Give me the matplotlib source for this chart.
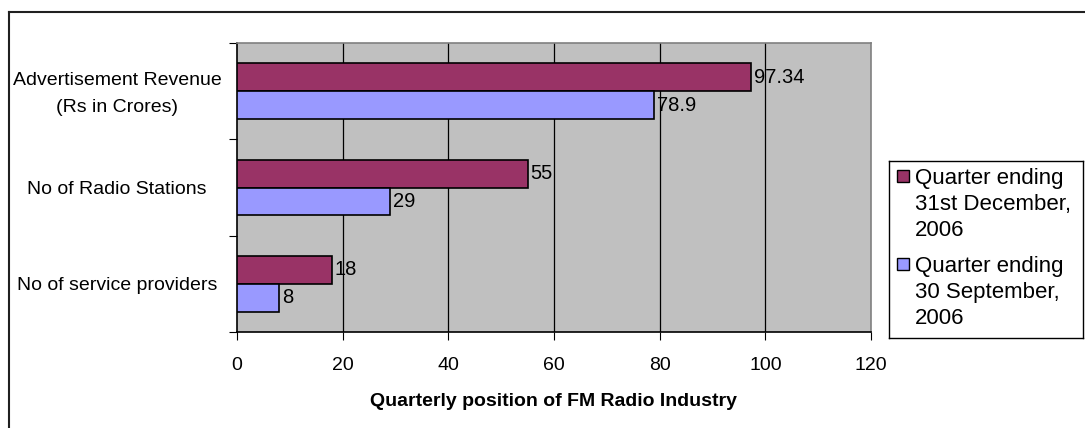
import numpy as np
import matplotlib
matplotlib.use('Agg')
import matplotlib.pyplot as plt
from matplotlib.lines import Line2D
from matplotlib.patches import Rectangle
from matplotlib.transforms import ScaledTranslation

plt.rcParams['font.family'] = ['Liberation Sans', 'DejaVu Sans']

# data
categories = ['Advertisement Revenue\n(Rs in Crores)', 'No of Radio Stations', 'No of service providers']
dec_2006 = [97.34, 55, 18]
sep_2006 = [78.9, 29, 8]
series_names = ['Quarter ending\n31st December,\n2006', 'Quarter ending\n30 September,\n2006']
colors = ['#993366', '#9999FF']
xticks = [0, 20, 40, 60, 80, 100, 120]

W, H = 1085, 428
fig = plt.figure(figsize=(W / 100, H / 100), dpi=100)
ax = fig.add_axes([237 / W, 1 - 332 / H, (871 - 237) / W, (332 - 43) / H])
ax.set_facecolor('#C0C0C0')

fs = 14
pos = np.arange(len(categories))[::-1]
bh = 0.29
b1 = ax.barh(pos + bh / 2, dec_2006, height=bh, color=colors[0], edgecolor='black', lw=1.2, zorder=3)
b2 = ax.barh(pos - bh / 2, sep_2006, height=bh, color=colors[1], edgecolor='black', lw=1.2, zorder=3)
ax.bar_label(b1, fmt='%g', padding=2, fontsize=14.5)
ax.bar_label(b2, fmt='%g', padding=2, fontsize=14.5)

ax.set_xlim(0, 120)
ax.set_xticks(xticks)
ax.tick_params(axis='x', length=6, direction='out', labelsize=fs, pad=12)
ax.grid(axis='x', color='black', lw=0.9, zorder=1)
ax.get_xgridlines()[-1].set_visible(False)
ax.get_xgridlines()[0].set_visible(False)

ax.set_ylim(-0.5, len(categories) - 0.5)
ax.set_yticks(np.arange(len(categories) + 1) - 0.5)
ax.set_yticklabels([])
ax.tick_params(axis='y', which='major', length=6, direction='out')
ax.set_yticks(pos, categories, minor=True)
ax.tick_params(axis='y', which='minor', length=0, labelsize=fs, pad=0)
# Excel-style centred category labels
for t in ax.get_yticklabels(minor=True):
    dy = 0.04 if '\n' in t.get_text() else 0
    off = ScaledTranslation(-(237 - 117) / 100, dy, fig.dpi_scale_trans)
    t.set_horizontalalignment('center')
    t.set_multialignment('center')
    t.set_linespacing(1.75)
    t.set_transform(t.get_transform() + off)

for s in ['left', 'bottom']:
    ax.spines[s].set_color('black')
    ax.spines[s].set_linewidth(1.2)
for s in ['top', 'right']:
    ax.spines[s].set_color('#808080')
    ax.spines[s].set_linewidth(1.2)

ax.set_xlabel('Quarterly position of FM Radio Industry', fontsize=fs, fontweight='bold', labelpad=14)

# legend box drawn in pixel units (Excel puts the swatch next to the first line)
lx, ly, lw_, lh = 889, 161, 194, 177
lax = fig.add_axes([lx / W, 1 - (ly + lh) / H, lw_ / W, lh / H])
lax.set_xlim(0, lw_)
lax.set_ylim(lh, 0)
lax.set_xticks([])
lax.set_yticks([])
for s in lax.spines.values():
    s.set_color('black')
    s.set_linewidth(1.0)
line_pitch = 26
entry_top = [15, 103]
for name, c, top in zip(series_names, colors, entry_top):
    lax.add_patch(Rectangle((8, top - 6), 12, 12, facecolor=c, edgecolor='black', lw=1.0))
    for i, ln in enumerate(name.split('\n')):
        lax.text(26, top + i * line_pitch, ln, fontsize=16, va='center_baseline', ha='left')

# outer chart border
fig.add_artist(Line2D([9 / W, 9 / W], [0, 1 - 12 / H], transform=fig.transFigure, color='#202020', lw=1.5))
fig.add_artist(Line2D([9 / W, 1], [1 - 12 / H, 1 - 12 / H], transform=fig.transFigure, color='#202020', lw=1.5))

fig.savefig('out.png', dpi=100)
